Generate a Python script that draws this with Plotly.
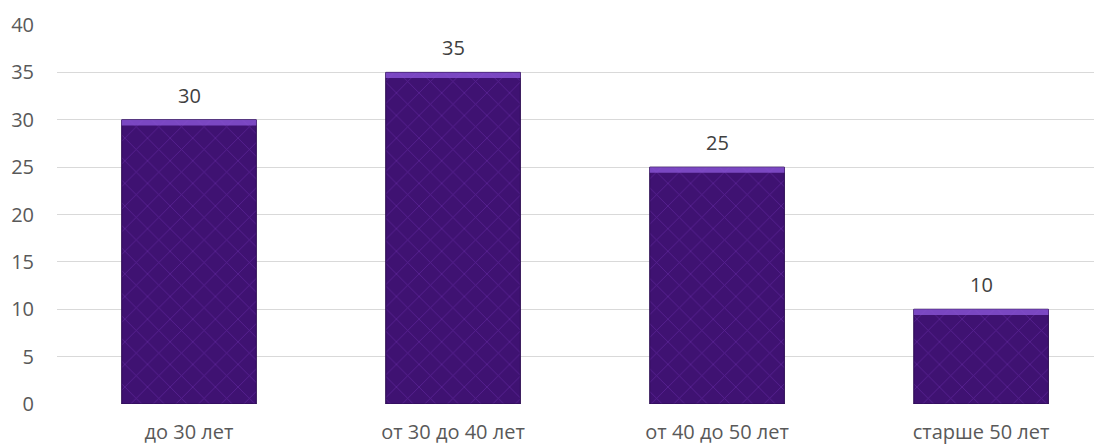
import plotly.graph_objects as go

categories = ["до 30 лет", "от 30 до 40 лет", "от 40 до 50 лет", "старше 50 лет"]
values = [30, 35, 25, 10]
y_ticks = [0, 5, 10, 15, 20, 25, 30, 35, 40]

bevel = 0.6

fig = go.Figure()
fig.add_trace(go.Bar(
    x=categories, y=values, width=0.51,
    marker=dict(color="#431578", line=dict(width=1, color="#2a0a50"),
                pattern=dict(shape="x", fgcolor="#6a2eaa", bgcolor="#3f1272",
                             size=16, solidity=0.1, fgopacity=0.6)),
    hoverinfo="skip",
))
fig.add_trace(go.Bar(
    x=categories, y=[bevel] * len(values), base=[v - bevel for v in values], width=0.51,
    marker=dict(color="#8a55d6", line=dict(width=0), opacity=0.8),
    hoverinfo="skip",
))
for c, v in zip(categories, values):
    fig.add_annotation(x=c, y=v, text=str(v), showarrow=False, yanchor="bottom",
                       yshift=9, font=dict(family="Open Sans", size=20, color="#404040"))

fig.update_layout(
    width=1094, height=437,
    margin=dict(l=49, r=0, t=17, b=41),
    paper_bgcolor="white", plot_bgcolor="white",
    barmode="overlay", showlegend=False,
    font=dict(family="Open Sans", size=20, color="#595959"),
    xaxis=dict(type="category", range=[-0.5, 3.458], showgrid=False, showline=False,
               zeroline=False, ticks="", tickfont=dict(size=20, color="#595959"),
               ticklabelstandoff=14, automargin=False),
    yaxis=dict(range=[0, 40], tickvals=y_ticks, showgrid=True, gridcolor="#d9d9d9",
               gridwidth=1, zeroline=False, showline=False, ticks="",
               tickfont=dict(size=20, color="#595959"), ticklabelstandoff=22,
               automargin=False),
)

fig.write_html("out.html")
